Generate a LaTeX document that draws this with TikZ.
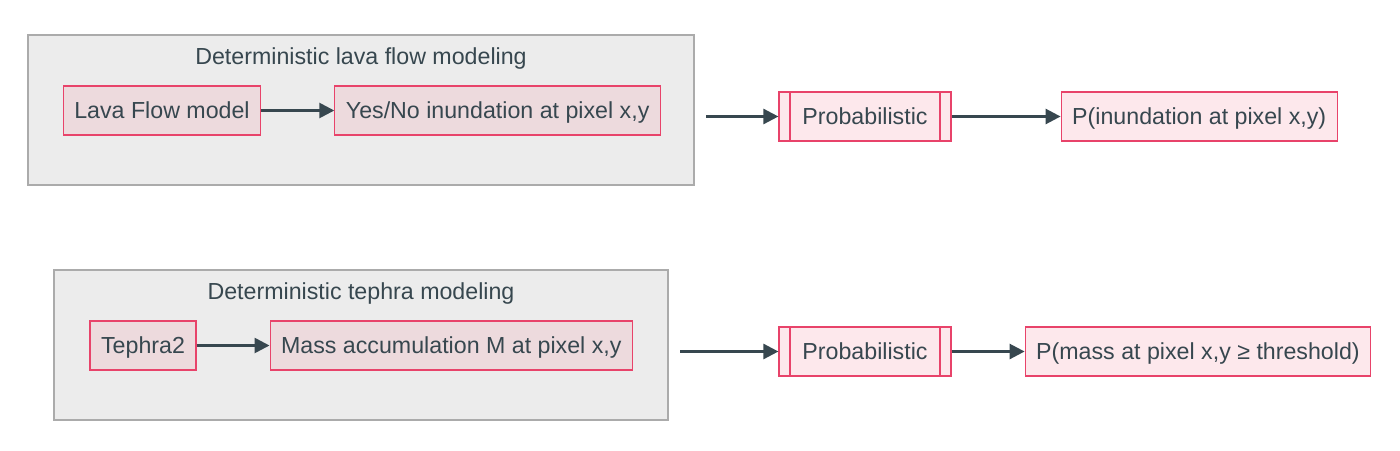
\documentclass[tikz,border=0pt]{standalone}
\usepackage{fontspec}
\setmainfont{Liberation Sans}
\usetikzlibrary{positioning,arrows.meta}
\definecolor{inkgray}{HTML}{37474F}
\definecolor{pinkline}{HTML}{E8436A}
\definecolor{pinkfill}{HTML}{FDE8EC}
\definecolor{pinkdim}{HTML}{EDDADD}
\definecolor{clusterfill}{HTML}{ECECEC}
\definecolor{clusterline}{HTML}{ABABAB}

\begin{document}
\begin{tikzpicture}[
  x=1pt, y=1pt,
  node distance = 36.5pt,
  font=\fontsize{11.6}{13}\selectfont, text=inkgray,
  box/.style  = {draw=pinkline, fill=pinkfill, line width=0.6pt,
                 minimum height=24.5pt, inner xsep=5.5pt, inner ysep=0pt,
                 text height=8.6pt, text depth=0.3pt},
  inbox/.style = {box, fill=pinkdim},
  subbox/.style = {box, minimum width=86pt,
                   path picture={
                     \draw[pinkline, line width=0.6pt]
                       ([xshift=5.5pt]path picture bounding box.north west) --
                       ([xshift=5.5pt]path picture bounding box.south west)
                       ([xshift=-5.5pt]path picture bounding box.north east) --
                       ([xshift=-5.5pt]path picture bounding box.south east);}},
  cluster/.style = {draw=clusterline, fill=clusterfill, line width=0.6pt},
  title/.style = {text height=8.6pt, text depth=0.3pt},
  arr/.style  = {-{Triangle[length=7.5pt, width=7.5pt]}, line width=1.3pt, inkgray},
]
\useasboundingbox (0,0) rectangle (700,-225);
% clusters
\draw[cluster] (14,-17.5) rectangle (347,-92.5);
\draw[cluster] (27,-135) rectangle (334,-210);
\node[title] (lavatitle) at (180.5,-28) {Deterministic lava flow modeling};
\node[title] (tephtitle) at (180.5,-145.5) {Deterministic tephra modeling};
% row 1: lava
\node[inbox] (lava) at (81,-55.25) {Lava Flow model};
\node[inbox, right=of lava] (yesno) {Yes/No inundation at pixel x,y};
\coordinate (lavaout) at (353,-58.25);
\node[subbox] (probA) at (432.5,-58.25) {Probabilistic};
\node[box, right=54.5pt of probA] (pinund) {P(inundation at pixel x,y)};
% row 2: tephra
\node[inbox] (teph) at (71.5,-172.75) {Tephra2};
\node[inbox, right=of teph] (mass) {Mass accumulation M at pixel x,y};
\coordinate (tephout) at (340,-175.75);
\node[subbox] (probB) at (432.5,-175.75) {Probabilistic};
\node[box, right=of probB] (pmass) {P(mass at pixel x,y \symbol{"2265} threshold)};
% edges
\draw[arr] (lava) -- (yesno);
\draw[arr] (lavaout) -- (probA);
\draw[arr] (probA) -- (pinund);
\draw[arr] (teph) -- (mass);
\draw[arr] (tephout) -- (probB);
\draw[arr] (probB) -- (pmass);
\end{tikzpicture}
\end{document}
